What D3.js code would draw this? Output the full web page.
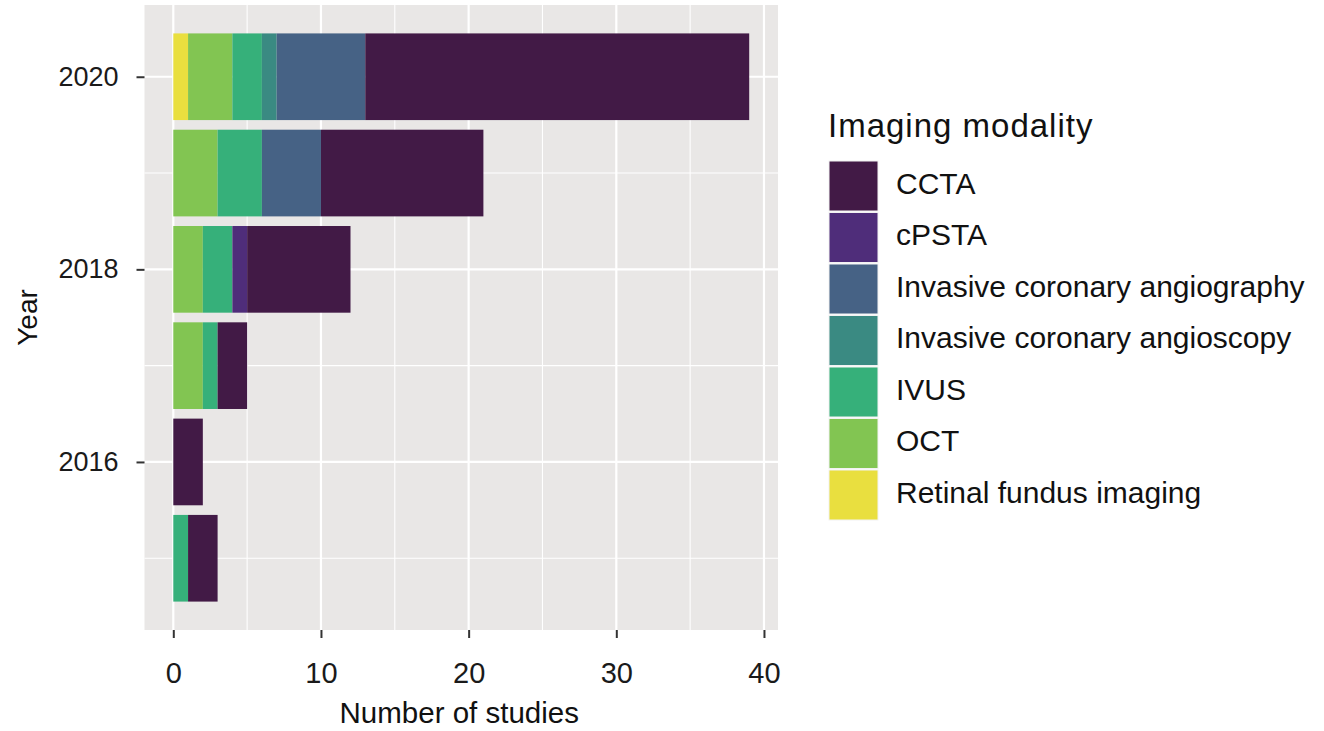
<!DOCTYPE html>
<html>
<head>
<meta charset="utf-8">
<script src="https://cdn.jsdelivr.net/npm/d3@7"></script>
<style>
  body { margin: 0; background: #fff; }
  svg { display: block; font-family: "Liberation Sans", Arial, sans-serif; }
</style>
</head>
<body>
<div id="chart"></div>
<script>
const years = [2015, 2016, 2017, 2018, 2019, 2020];
const modalities = ['CCTA', 'cPSTA', 'Invasive coronary angiography', 'Invasive coronary angioscopy', 'IVUS', 'OCT', 'Retinal fundus imaging'];
const colors = ['#421a46', '#4f2d7a', '#466285', '#3a8a82', '#36b07a', '#82c552', '#e9df3f'];
// counts per year, in modality order
const ccta        = [2, 2, 2, 7, 11, 26];
const cpsta       = [0, 0, 0, 1, 0, 0];
const angiography = [0, 0, 0, 0, 4, 6];
const angioscopy  = [0, 0, 0, 0, 0, 1];
const ivus        = [1, 0, 1, 2, 3, 2];
const oct         = [0, 0, 2, 2, 3, 3];
const retinal     = [0, 0, 0, 0, 0, 1];
const series = [ccta, cpsta, angiography, angioscopy, ivus, oct, retinal];
const xTicks = [0, 10, 20, 30, 40];
const yTicks = [2016, 2018, 2020];

const W = 1324, H = 731;
const panel = { left: 144.5, right: 778, top: 5, bottom: 630 };

const svg = d3.select('#chart').append('svg').attr('width', W).attr('height', H);

const totals = years.map((_, i) => d3.sum(series, s => s[i]));
const xMax = d3.max(totals);
const x = d3.scaleLinear().domain([-0.05 * xMax, xMax * 1.05]).range([panel.left, panel.right]);
const y = d3.scaleLinear().domain([2020.745, 2014.255]).range([panel.top, panel.bottom]);

// panel background and grid
svg.append('rect').attr('x', panel.left).attr('y', panel.top)
  .attr('width', panel.right - panel.left).attr('height', panel.bottom - panel.top).attr('fill', '#e9e7e6');

const minorX = [5, 15, 25, 35];
const minorY = [2015, 2017, 2019];
const grid = svg.append('g');
grid.selectAll('line.mx').data(minorX).join('line')
  .attr('x1', d => x(d)).attr('x2', d => x(d)).attr('y1', panel.top).attr('y2', panel.bottom)
  .attr('stroke', '#fff').attr('stroke-width', 1.1);
grid.selectAll('line.my').data(minorY).join('line')
  .attr('y1', d => y(d)).attr('y2', d => y(d)).attr('x1', panel.left).attr('x2', panel.right)
  .attr('stroke', '#fff').attr('stroke-width', 1.1);
grid.selectAll('line.gx').data(xTicks).join('line')
  .attr('x1', d => x(d)).attr('x2', d => x(d)).attr('y1', panel.top).attr('y2', panel.bottom)
  .attr('stroke', '#fff').attr('stroke-width', 2.2);
grid.selectAll('line.gy').data(yTicks).join('line')
  .attr('y1', d => y(d)).attr('y2', d => y(d)).attr('x1', panel.left).attr('x2', panel.right)
  .attr('stroke', '#fff').attr('stroke-width', 2.2);

// stacked bars: first modality sits at the far end, last at zero (ggplot stacking order)
const rows = years.map((yr, i) => {
  const r = { year: yr };
  modalities.forEach((m, k) => { r[m] = series[k][i]; });
  return r;
});
const stack = d3.stack().keys(modalities.slice().reverse());
const layers = stack(rows);
const color = d3.scaleOrdinal().domain(modalities).range(colors);
const bh = Math.abs(y(0.45) - y(-0.45));

svg.append('g').selectAll('g').data(layers).join('g')
  .attr('fill', d => color(d.key))
  .selectAll('rect').data(d => d.filter(v => v[1] > v[0])).join('rect')
  .attr('x', d => x(d[0])).attr('width', d => x(d[1]) - x(d[0]))
  .attr('y', d => y(d.data.year + 0.45)).attr('height', bh);

// axes
const xAxis = svg.append('g').attr('transform', `translate(0,${panel.bottom})`)
  .call(d3.axisBottom(x).tickValues(xTicks).tickSize(8).tickPadding(24));
const yAxis = svg.append('g').attr('transform', `translate(${panel.left},0)`)
  .call(d3.axisLeft(y).tickValues(yTicks).tickFormat(d3.format('d')).tickSize(8).tickPadding(18));
[xAxis, yAxis].forEach(a => {
  a.select('.domain').remove();
  a.selectAll('.tick line').attr('stroke', '#333').attr('stroke-width', 2);
  a.selectAll('.tick text').attr('fill', '#1a1a1a')
    .attr('font-family', '"Liberation Sans", Arial, sans-serif');
});
xAxis.selectAll('.tick text').attr('font-size', 29);
yAxis.selectAll('.tick text').attr('font-size', 27);

svg.append('text').attr('x', (panel.left + panel.right) / 2 - 2).attr('y', 723)
  .attr('text-anchor', 'middle').attr('font-size', 29.5).attr('fill', '#111').text('Number of studies');
svg.append('text').attr('transform', `translate(37,${(panel.top + panel.bottom) / 2}) rotate(-90)`)
  .attr('text-anchor', 'middle').attr('font-size', 28).attr('fill', '#111').text('Year');

// legend
const lg = svg.append('g').attr('transform', 'translate(829,0)');
lg.append('text').attr('x', -1).attr('y', 137).attr('font-size', 33).attr('letter-spacing', 1)
  .attr('fill', '#111').text('Imaging modality');
const keyH = 51.5;
const items = lg.selectAll('g.item').data(modalities).join('g').attr('class', 'item')
  .attr('transform', (d, i) => `translate(0,${161 + i * keyH})`);
items.append('rect').attr('x', 0).attr('y', 0).attr('width', 49).attr('height', keyH - 1.5)
  .attr('fill', d => color(d)).attr('stroke', '#f2f2f2').attr('stroke-width', 1);
items.append('text').attr('x', 67).attr('y', keyH / 2).attr('dy', '0.24em')
  .attr('font-size', 30).attr('fill', '#111').text(d => d);
</script>
</body>
</html>
